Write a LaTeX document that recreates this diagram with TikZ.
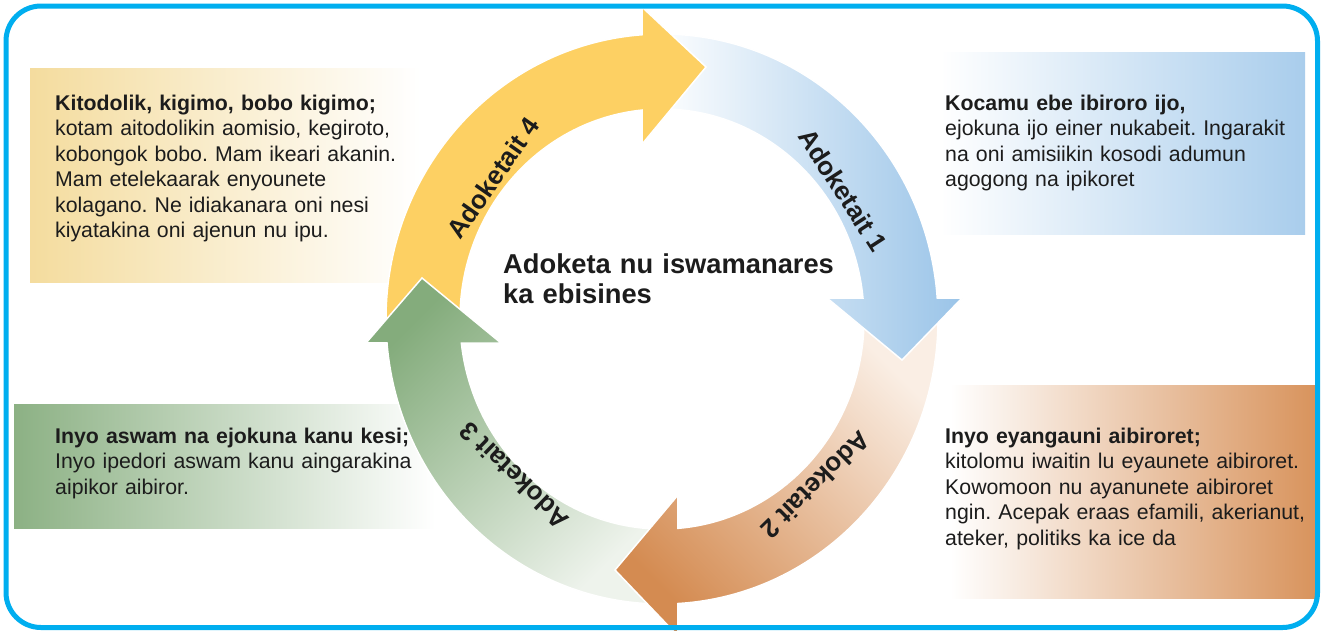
\documentclass[tikz,border=0pt]{standalone}
\usepackage{fontspec}
\setmainfont{Liberation Sans}
\frenchspacing
\usetikzlibrary{calc}
\definecolor{frame}{HTML}{00AEEF}
\definecolor{ink}{HTML}{1C1C1C}
\definecolor{yarr}{HTML}{FDD063}
\definecolor{ybox}{HTML}{F4DC9E}
\definecolor{barr}{HTML}{9AC4E8}
\definecolor{bluebox}{HTML}{A9CDEC}
\definecolor{oarr}{HTML}{D48B51}
\definecolor{oarrl}{HTML}{FAEEE4}
\definecolor{obox}{HTML}{D8935C}
\definecolor{garr}{HTML}{84AC7C}
\definecolor{garrl}{HTML}{EEF3EC}
\definecolor{gbox}{HTML}{8CB184}
\begin{document}
\begin{tikzpicture}[x=1pt,y=-1pt,
  body/.style={anchor=base west, inner sep=0pt, text=ink, align=left, text width=#1, font=\frenchspacing\fontsize{21.3}{25.5}\selectfont},
  lab/.style={inner sep=0pt, text=ink, font=\bfseries\fontsize{26}{30}\selectfont},
  arrowedge/.style={draw=white, line width=1.5pt, line join=miter}
]
\useasboundingbox (0,0) rectangle (1321,630);
\fill[white] (0,0) rectangle (1321,630);
\coordinate (C) at (662,319);

% text boxes
\shade[left color=ybox, right color=white] (30,68) rectangle (420,282);
\shade[left color=white, right color=bluebox] (940,52) rectangle (1305,234);
\shade[left color=gbox, right color=white] (14,404) rectangle (435,528);
\shade[left color=white, right color=obox] (950,385) rectangle (1317,598);

% arrow 4 (yellow)
\path[fill=yarr, arrowedge] ($(C)+(178:276 and 285)$) arc[start angle=178, end angle=266.05, x radius=276, y radius=285]
  -- (643,8) -- (706,67) -- (643,143) -- ($(C)+(264.6:202 and 210)$)
  arc[start angle=264.6, end angle=178, x radius=202, y radius=210] -- cycle;
% arrow 3 (green)
\path[top color=garr, bottom color=garrl, shading angle=45, arrowedge] ($(C)+(91:276 and 285)$) arc[start angle=91, end angle=175.2, x radius=276, y radius=285]
  -- (366,343) -- (422,278) -- (501,343) -- ($(C)+(173.4:202 and 210)$)
  arc[start angle=173.4, end angle=91, x radius=202, y radius=210] -- cycle;
% arrow 2 (orange)
\path[top color=oarrl, bottom color=oarr, shading angle=-45, arrowedge] ($(C)+(0:276 and 285)$) arc[start angle=0, end angle=86.7, x radius=276, y radius=285]
  -- (678,636) -- (615,570) -- (678,495) -- ($(C)+(85.5:202 and 210)$)
  arc[start angle=85.5, end angle=0, x radius=202, y radius=210] -- cycle;
% arrow 1 (blue)
\path[left color=barr!5, right color=barr, arrowedge] ($(C)+(272:276 and 285)$) arc[start angle=272, end angle=355.8, x radius=276, y radius=285]
  -- (962,298) -- (902,360) -- (827,298) -- ($(C)+(354.3:202 and 210)$)
  arc[start angle=354.3, end angle=272, x radius=202, y radius=210] -- cycle;
% yellow head on top of blue tail
\fill[yarr] (643,8) -- (706,67) -- (643,143) -- cycle;
\draw[white, line width=1.5pt, line join=miter] (643,8) -- (706,67) -- (643,143);

% arrow labels
\node[lab, rotate=55] (l4) at (493,178) {Adoketait 4};
\node[lab, rotate=-57] (l1) at (843,190) {Adoketait 1};
\node[lab, rotate=-135.5] (l2) at (816,485) {Adoketait 2};
\node[lab, rotate=136] (l3) at (514,476) {Adoketait 3};

% centre title
\node[anchor=base west, inner sep=0pt, text=ink, align=left, text width=360pt,
      font=\bfseries\fontsize{27.3}{30}\selectfont] (title) at (503,273) {Adoketa nu iswamanares\\ka ebisines};

% body texts
\node[body=380pt] (ty) at (55,110) {\textbf{Kitodolik, kigimo, bobo kigimo;}\\kotam aitodolikin aomisio, kegiroto,\\kobongok bobo. Mam ikeari akanin.\\Mam etelekaarak enyounete\\kolagano. Ne idiakanara oni nesi\\kiyatakina oni ajenun nu ipu.};
\node[body=360pt] (tb) at (945,110) {\textbf{Kocamu ebe ibiroro ijo,}\\ejokuna ijo einer nukabeit. Ingarakit\\na oni amisiikin kosodi adumun\\agogong na ipikoret};
\node[body=380pt] (tg) at (55,443) {\textbf{Inyo aswam na ejokuna kanu kesi;}\\Inyo ipedori aswam kanu aingarakina\\aipikor aibiror.};
\node[body=365pt] (to) at (945,443) {\textbf{Inyo eyangauni aibiroret;}\\kitolomu iwaitin lu eyaunete aibiroret.\\Kowomoon nu ayanunete aibiroret\\ngin. Acepak eraas efamili, akerianut,\\ateker, politiks ka ice da};

% frame
\draw[frame, line width=5pt, rounded corners=35pt] (6,6) rectangle (1317.5,627.5);
\end{tikzpicture}
\end{document}
